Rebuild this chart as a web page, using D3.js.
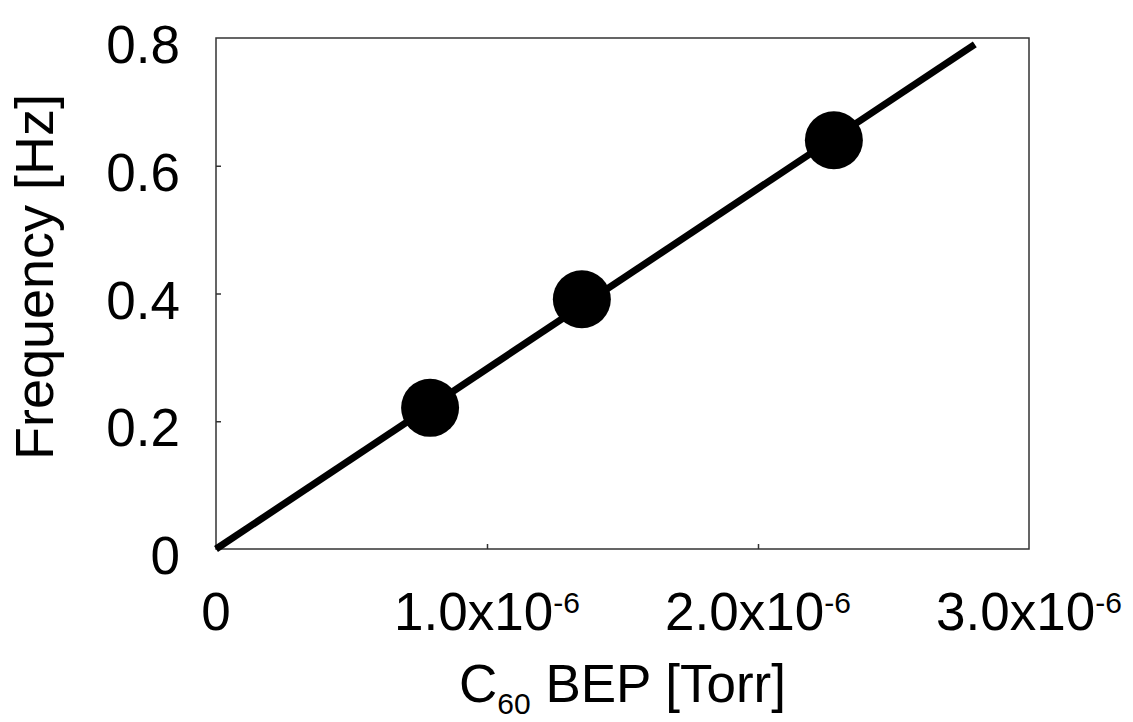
<!DOCTYPE html>
<html>
<head>
<meta charset="utf-8">
<script src="https://cdn.jsdelivr.net/npm/d3@7"></script>
<style>
  body { margin: 0; background: #fff; }
  text { font-family: Arial, 'Liberation Sans', sans-serif; fill: #000; }
</style>
</head>
<body>
<svg id="chart" width="1133" height="722"></svg>
<script>
// measured points: C60 BEP [Torr] vs frequency [Hz]
const bep = [0.79e-6, 1.35e-6, 2.28e-6]
const freq = [0.221, 0.391, 0.640]
// linear fit line end points
const fitX = [0, 2.8e-6]
const fitY = [0, 0.79]

const xTicks = [0, 1e-6, 2e-6, 3e-6]
const xTickLabels = [['0', ''], ['1.0x10', '-6'], ['2.0x10', '-6'], ['3.0x10', '-6']]
const yTicks = [0, 0.2, 0.4, 0.6, 0.8]
const yTickLabels = ['0', '0.2', '0.4', '0.6', '0.8']

const margin = {top: 38, right: 104, bottom: 173, left: 216}
const width = 1133 - margin.left - margin.right
const height = 722 - margin.top - margin.bottom

const svg = d3.select('#chart')
const g = svg.append('g').attr('transform', `translate(${margin.left},${margin.top})`)

const x = d3.scaleLinear().domain([0, 3e-6]).range([0, width])
const y = d3.scaleLinear().domain([0, 0.8]).range([height, 0])

// inward ticks
g.append('g')
  .attr('transform', `translate(0,${height})`)
  .call(d3.axisBottom(x).tickValues(xTicks.slice(1, 3)).tickSizeInner(-5).tickSizeOuter(0).tickFormat(''))
  .call((a) => a.select('.domain').remove())
  .selectAll('line').attr('stroke', '#333').attr('stroke-width', 1.5)

g.append('g')
  .call(d3.axisLeft(y).tickValues(yTicks.slice(1, 4)).tickSizeInner(-5).tickSizeOuter(0).tickFormat(''))
  .call((a) => a.select('.domain').remove())
  .selectAll('line').attr('stroke', '#333').attr('stroke-width', 1.5)

// frame
g.append('rect')
  .attr('x', 0).attr('y', 0)
  .attr('width', width).attr('height', height)
  .attr('fill', 'none')
  .attr('stroke', '#333')
  .attr('stroke-width', 1.5)

// fit line
const line = d3.line().x((d) => x(d[0])).y((d) => y(d[1]))
g.append('path')
  .datum(fitX.map((v, i) => [v, fitY[i]]))
  .attr('d', line)
  .attr('fill', 'none')
  .attr('stroke', '#000')
  .attr('stroke-width', 7)

// data points
g.selectAll('circle')
  .data(bep.map((v, i) => [v, freq[i]]))
  .enter().append('circle')
  .attr('cx', (d) => x(d[0]))
  .attr('cy', (d) => y(d[1]))
  .attr('r', 29)
  .attr('fill', '#000')

// x tick labels with superscripts
const xl = g.selectAll('.xlab')
  .data(xTicks)
  .enter().append('text')
  .attr('class', 'xlab')
  .attr('x', (d) => x(d))
  .attr('y', height + 81)
  .attr('text-anchor', 'middle')
  .style('font-size', '53px')
xl.append('tspan').text((d, i) => xTickLabels[i][0])
xl.append('tspan')
  .attr('dy', -17)
  .style('font-size', '30px')
  .text((d, i) => xTickLabels[i][1])

// y tick labels
g.selectAll('.ylab')
  .data(yTicks)
  .enter().append('text')
  .attr('class', 'ylab')
  .attr('x', -36)
  .attr('y', (d) => y(d) + 25)
  .attr('text-anchor', 'end')
  .style('font-size', '53px')
  .text((d, i) => yTickLabels[i])

// axis titles
const xt = svg.append('text')
  .attr('x', margin.left + width / 2)
  .attr('y', 702)
  .attr('text-anchor', 'middle')
  .style('font-size', '53px')
xt.append('tspan').text('C')
xt.append('tspan').attr('dy', 12).style('font-size', '30px').text('60')
xt.append('tspan').attr('dy', -12).text(' BEP [Torr]')

svg.append('text')
  .attr('transform', 'translate(53,277) rotate(-90)')
  .attr('text-anchor', 'middle')
  .style('font-size', '54px')
  .text('Frequency [Hz]')
</script>
</body>
</html>
